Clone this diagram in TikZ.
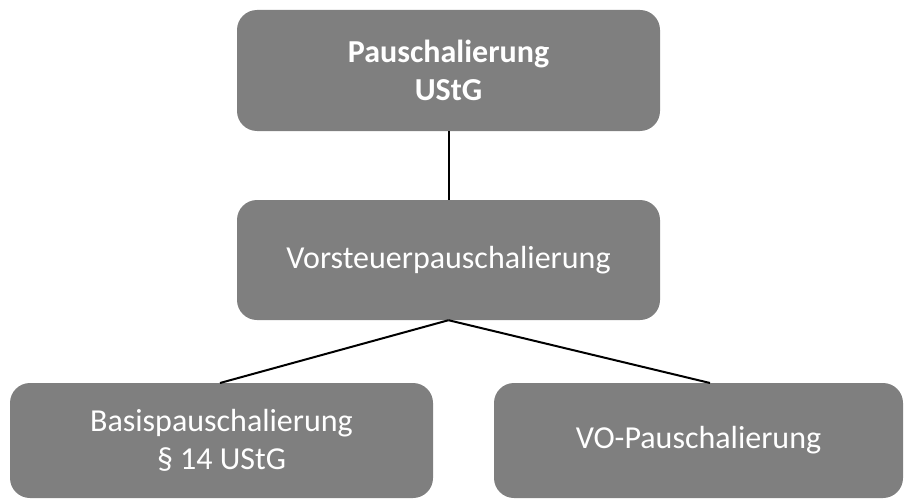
\documentclass[tikz,border=0pt]{standalone}
\usepackage{fontspec}
\setmainfont{Carlito}
\definecolor{boxgray}{HTML}{7F7F7F}
\begin{document}
\begin{tikzpicture}[x=1pt,y=-1pt,
  gbox/.style={draw=none, fill=boxgray, rounded corners=20pt, text=white, align=center,
    inner sep=0pt, font=\fontsize{32}{38}\selectfont},
  link/.style={draw=black, line width=2pt}]
\useasboundingbox (0,0) rectangle (904,500);
\node[gbox, minimum width=423pt, minimum height=121pt, font=\fontsize{32}{38}\selectfont\bfseries] (top) at (448.5,70.5) {Pauschalierung\\UStG};
\node[gbox, minimum width=423pt, minimum height=120pt] (mid) at (448.5,260) {Vorsteuerpauschalierung};
\node[gbox, minimum width=423pt, minimum height=115pt] (bl) at (221.5,440.5) {Basispauschalierung\\§ 14 UStG};
\node[gbox, minimum width=409pt, minimum height=115pt] (br) at (698.5,440.5) {VO-Pauschalierung};
\coordinate (blt) at (220,383);
\coordinate (brt) at (710,383);
\draw[link] (top.south) -- (mid.north);
\draw[link] (mid.south) -- (blt);
\draw[link] (mid.south) -- (brt);
\end{tikzpicture}
\end{document}
